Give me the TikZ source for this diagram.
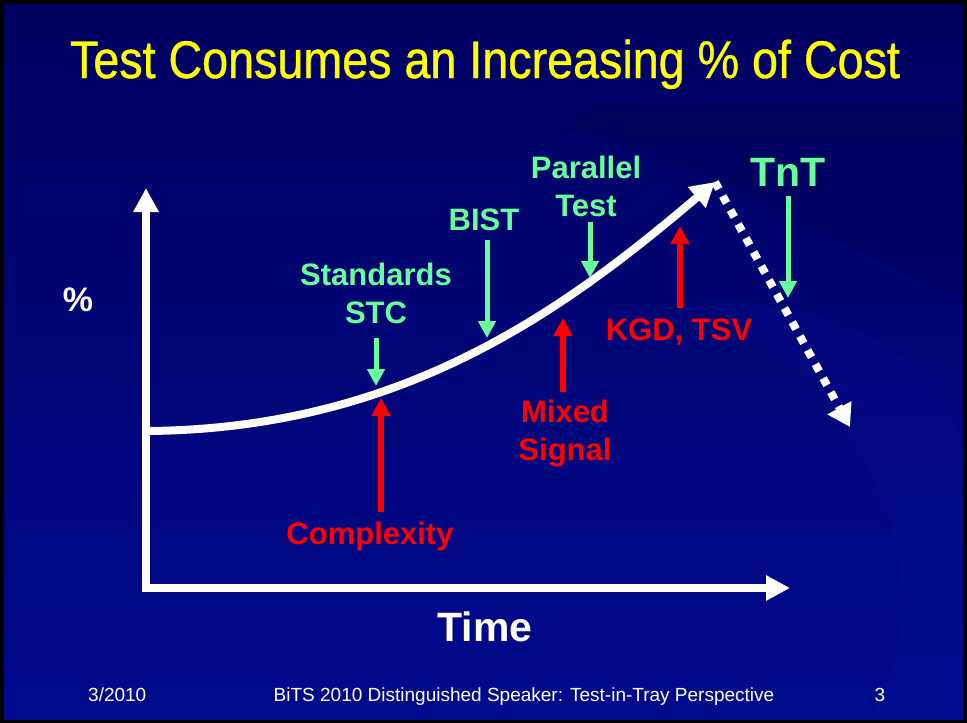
\documentclass[tikz,border=0pt]{standalone}
\usepackage{graphicx}
\usepackage{fontspec}
\setmainfont{Liberation Sans}
\usetikzlibrary{arrows.meta}

\definecolor{slidetop}{RGB}{0,0,96}
\definecolor{slidebot}{RGB}{0,10,142}
\definecolor{slidedark}{RGB}{0,0,70}
\definecolor{slidelight}{RGB}{10,25,160}
\definecolor{labgreen}{RGB}{102,255,153}
\definecolor{labred}{RGB}{255,0,0}
\definecolor{titleyellow}{RGB}{255,255,0}

\tikzset{
  axisline/.style={white, line width=8pt, line join=miter,
    {Triangle[width=24pt,length=24pt]}-{Triangle[width=24pt,length=24pt]}},
  costcurve/.style={white, line width=8pt, -{Triangle[width=26pt,length=24pt]}},
  dropline/.style={white, line width=8pt, dash pattern=on 8pt off 8pt,
    -{Triangle[width=26pt,length=22pt]}},
  greenarrow/.style={labgreen, line width=5pt, -{Triangle[width=17pt,length=17pt]}},
  redarrow/.style={labred, line width=6pt, -{Triangle[width=18pt,length=18pt]}},
  labtext/.style={font=\fontsize{31}{38}\selectfont\bfseries, align=center, inner sep=0pt},
  greenlab/.style={labtext, text=labgreen},
  redlab/.style={labtext, text=labred},
  axislab/.style={text=white, font=\fontsize{41}{46}\selectfont\bfseries, inner sep=0pt},
  footer/.style={text=white, font=\fontsize{19}{22}\selectfont, inner sep=0pt, anchor=base}
}

\begin{document}
\begin{tikzpicture}[x=1pt,y=-1pt]
\useasboundingbox (0,0) rectangle (967,723);

% slide background with frame
\fill[black] (0,0) rectangle (967,723);
\shade[top color=slidetop, bottom color=slidebot] (4,4) rectangle (963,719);
\fill[slidedark, opacity=0.25]
  (560,130) .. controls (700,150) and (820,240) .. (963,300)
  -- (963,100) -- (600,100) -- cycle;
\fill[slidelight, opacity=0.15]
  (700,300) .. controls (860,300) and (963,380) .. (963,460)
  -- (963,719) -- (870,719) .. controls (940,600) and (900,420) .. (700,300) -- cycle;

% title
\node[text=titleyellow, anchor=base, inner sep=0pt] (title) at (485,78)
  {\resizebox{830pt}{\height}{\fontsize{53}{60}\selectfont\addfontfeatures{FakeBold=0.8}Test Consumes an Increasing \% of Cost}};

% axes
\coordinate (ytip) at (146,188);
\coordinate (orig) at (146,588);
\coordinate (xtip) at (790,588);
\draw[axisline] (ytip) -- (orig) -- (xtip);

\node[axislab] (timelab) at (485,627) {Time};
\node[text=white, font=\fontsize{34}{40}\selectfont\bfseries, inner sep=0pt] (pctlab) at (78,300) {\%};

% cost curve and the drop after TnT
\coordinate (cstart) at (150,431);
\coordinate (cpeak) at (715,182);
\coordinate (cdrop) at (850,427);
\draw[costcurve] (cstart) .. controls (400,428) and (560,314) .. (cpeak);
\draw[dropline] (cpeak) -- (cdrop);

% green labels: cost reducers
\node[greenlab] (stc) at (376,293) {Standards\\STC};
\node[greenlab] (bist) at (484,220) {BIST};
\node[greenlab] (ptest) at (586,186) {Parallel\\Test};
\node[labtext, text=labgreen, font=\fontsize{41}{46}\selectfont\bfseries] (tnt) at (788,172) {TnT};

\coordinate (stcA) at (376,338);   \coordinate (stcB) at (376,386);
\coordinate (bistA) at (487,240);  \coordinate (bistB) at (487,338);
\coordinate (ptA) at (590,222);    \coordinate (ptB) at (590,278);
\coordinate (tntA) at (788,196);   \coordinate (tntB) at (788,298);
\draw[greenarrow] (stcA) -- (stcB);
\draw[greenarrow] (bistA) -- (bistB);
\draw[greenarrow] (ptA) -- (ptB);
\draw[greenarrow] (tntA) -- (tntB);

% red labels: cost drivers
\node[redlab] (cplx) at (370,536) {Complexity};
\node[redlab] (mixed) at (565,434) {Mixed\\Signal};
\node[redlab] (kgd) at (679,332) {KGD, TSV};

\coordinate (cxA) at (381,512);   \coordinate (cxB) at (381,398);
\coordinate (msA) at (563,392);   \coordinate (msB) at (563,318);
\coordinate (kgA) at (680,308);   \coordinate (kgB) at (680,226);
\draw[redarrow] (cxA) -- (cxB);
\draw[redarrow] (msA) -- (msB);
\draw[redarrow] (kgA) -- (kgB);

% footer
\node[footer, anchor=base west] (fdate) at (88,701) {3/2010};
\node[footer] (ftitle) at (524,701) {BiTS 2010 Distinguished Speaker: Test-in-Tray Perspective};
\node[footer] (fpage) at (880,701) {3};
\end{tikzpicture}
\end{document}
